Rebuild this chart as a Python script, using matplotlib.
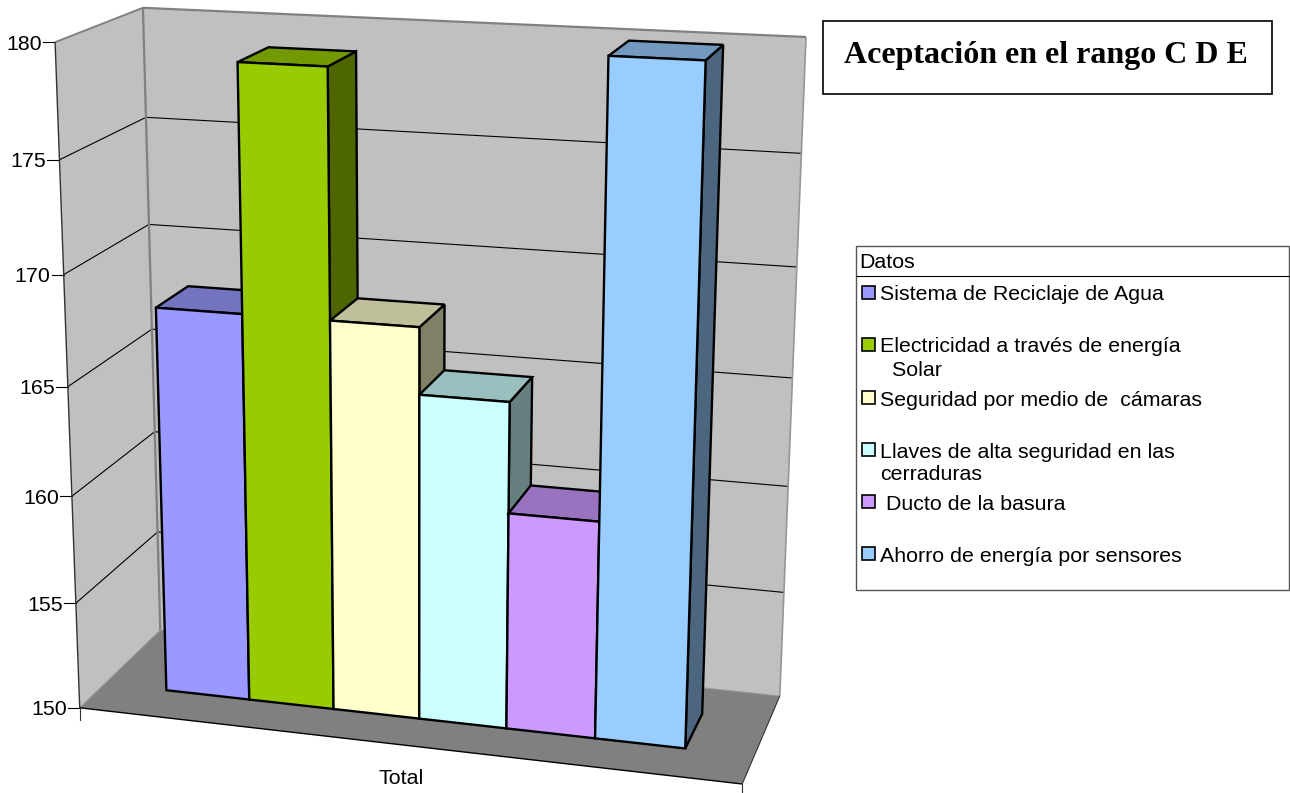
import numpy as np
import matplotlib
matplotlib.use('Agg')
import matplotlib.pyplot as plt
from matplotlib.patches import Polygon, Rectangle

categories = ['Sistema de Reciclaje de Agua',
              'Electricidad a través de energía\n  Solar',
              'Seguridad por medio de  cámaras',
              'Llaves de alta seguridad en las\ncerraduras',
              ' Ducto de la basura',
              'Ahorro de energía por sensores']
values = [168, 179, 168, 165, 160, 180]
front_colors = ['#9999FF', '#99CC00', '#FFFFCC', '#CCFFFF', '#CC99FF', '#99CCFF']
top_colors = ['#7373BF', '#739900', '#BFBF99', '#99BFBF', '#9973BF', '#7399BF']
side_colors = ['#4D4D80', '#4D6600', '#808066', '#668080', '#664D80', '#4D6680']
yticks = [150, 155, 160, 165, 170, 175, 180]
xlabel = 'Total'
title = 'Aceptación en el rango C D E'
legend_title = 'Datos'

# camera: solve a 3x4 matrix from the corners of the box seen in the picture
# (u along the categories, d into the page, z up), pixels on the right
box = [((0, 0, 0), (80, 708)), ((1, 0, 0), (742, 784)), ((0, 1, 0), (160, 630)),
       ((1, 1, 0), (780, 696)), ((0, 0, 1), (55, 42)), ((0, 1, 1), (143, 8)),
       ((1, 1, 1), (806, 37))]
rows = []
for (u, d, z), (px, py) in box:
    rows.append([u, d, z, 1, 0, 0, 0, 0, -px*u, -px*d, -px*z, -px])
    rows.append([0, 0, 0, 0, u, d, z, 1, -py*u, -py*d, -py*z, -py])
cam = np.linalg.svd(np.array(rows, dtype=float))[2][-1].reshape(3, 4)

vmin = yticks[0]
vmax = yticks[-1]

def proj(u, d, v):
    z = (v-vmin)/float(vmax-vmin)
    p = cam.dot([u, d, z, 1.0])
    return p[0]/p[2], p[1]/p[2]

fig = plt.figure(figsize=(12.9, 7.93), dpi=100)
ax = fig.add_axes([0, 0, 1, 1])
ax.set_xlim(0, 1290)
ax.set_ylim(793, 0)
ax.axis('off')

def face(pts, color, lw=1.7, ec='black', z=2):
    ax.add_patch(Polygon([proj(*p) for p in pts], closed=True, fc=color, ec=ec, lw=lw,
                         joinstyle='miter', zorder=z))

# walls and floor
face([(0, 0, vmin), (0, 1, vmin), (0, 1, vmax), (0, 0, vmax)], '#C0C0C0', 0, 'none', 1)
face([(0, 1, vmin), (1, 1, vmin), (1, 1, vmax), (0, 1, vmax)], '#C0C0C0', 0, 'none', 1)
face([(0, 0, vmin), (1, 0, vmin), (1, 1, vmin), (0, 1, vmin)], '#808080', 0, 'none', 1)

def line(a, b, color='black', lw=0.8):
    pa = proj(*a)
    pb = proj(*b)
    ax.plot([pa[0], pb[0]], [pa[1], pb[1]], color=color, lw=lw, zorder=1.5,
            solid_capstyle='butt')

# gridlines on both walls, ticks and labels
for t in yticks:
    if t != vmin and t != vmax:
        line((0, 0, t), (0, 1, t))
        line((0, 1, t), (1, 1, t))
    x, y = proj(0, 0, t)
    ax.plot([x-12, x], [y, y], color='black', lw=0.8, zorder=1.5)
    ax.text(x-13, y+2, str(t), ha='right', va='center', fontsize=15.4,
            family='Liberation Sans', color='black')

line((0, 1, vmin), (0, 1, vmax), '#808080', 1.6)
line((0, 1, vmax), (1, 1, vmax), '#808080', 1.6)
line((1, 1, vmin), (1, 1, vmax), '#969696', 1.2)
line((0, 0, vmax), (0, 1, vmax), '#808080', 1.4)
line((0, 1, vmin), (1, 1, vmin), '#969696', 0.8)
line((0, 0, vmin), (0, 1, vmin), '#969696', 0.8)
line((0, 0, vmin), (0, 0, vmax), '#333333', 1.0)
line((0, 0, vmin), (1, 0, vmin), 'black', 1.0)
line((1, 0, vmin), (1, 1, vmin), '#333333', 0.8)

# category ticks under the floor
for u in [0, 1]:
    x, y = proj(u, 0, vmin)
    ax.plot([x, x], [y, y+12], color='#333333', lw=0.8, zorder=1.5)

# bars, left to right so each one covers its neighbour
u0 = 0.1
w = 0.1333
d0 = 0.30
d1 = 0.70
for i in range(len(values)):
    a = u0+i*w
    b = a+w
    v = values[i]
    face([(b, d0, vmin), (b, d1, vmin), (b, d1, v), (b, d0, v)], side_colors[i], z=2+i)
    face([(a, d0, v), (b, d0, v), (b, d1, v), (a, d1, v)], top_colors[i], z=2+i)
    face([(a, d0, vmin), (b, d0, vmin), (b, d0, v), (a, d0, v)], front_colors[i], z=2+i)

ax.text(401, 778, xlabel, ha='center', va='center', fontsize=15.4, family='Liberation Sans')

# title box
ax.add_patch(Rectangle((823, 21), 449, 73, fc='white', ec='black', lw=1.2, zorder=3))
ax.text(1046, 56, title, ha='center', va='center', fontsize=23, fontweight='bold',
        family='Liberation Serif', zorder=4)

# legend
ax.add_patch(Rectangle((856, 246), 433, 344, fc='white', ec='#555555', lw=1.0, zorder=3))
ax.plot([856, 1289], [276, 276], color='black', lw=0.8, zorder=4)
ax.text(859, 263, legend_title, ha='left', va='center', fontsize=15.4,
        family='Liberation Sans', zorder=4)
swatch_y = [292, 344, 397, 449, 501, 553]
for i in range(len(categories)):
    ax.add_patch(Rectangle((862, swatch_y[i]-6), 13, 13, fc=front_colors[i], ec='black',
                           lw=1.2, zorder=4))
    lines = categories[i].split('\n')
    for j in range(len(lines)):
        ax.text(880, swatch_y[i]+3+j*23, lines[j], ha='left', va='center', fontsize=15.4,
                family='Liberation Sans', zorder=4)

fig.savefig('out.png', dpi=100)
